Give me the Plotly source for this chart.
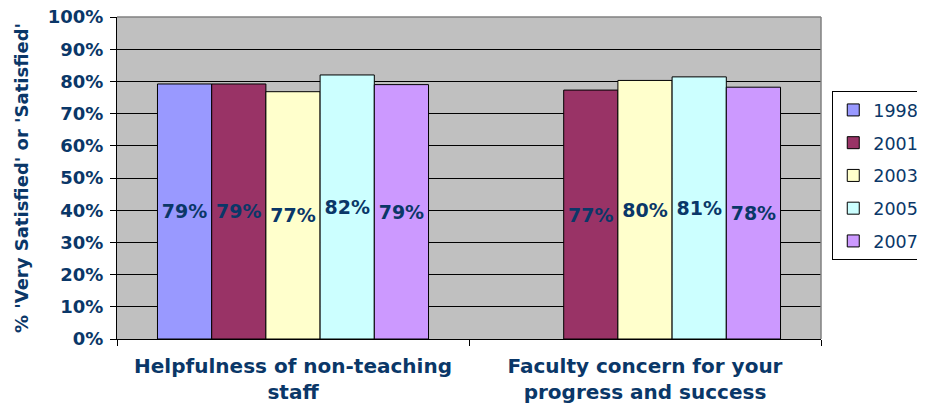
import plotly.graph_objects as go

categories = ["Helpfulness of non-teaching<br>staff", "Faculty concern for your<br>progress and success"]
years = ["1998", "2001", "2003", "2005", "2007"]
values = {
    "1998": [79.2, None],
    "2001": [79.2, 77.3],
    "2003": [76.8, 80.3],
    "2005": [82.0, 81.4],
    "2007": [79.0, 78.2],
}
colors = {
    "1998": "#9999FF",
    "2001": "#993366",
    "2003": "#FFFFCC",
    "2005": "#CCFFFF",
    "2007": "#CC99FF",
}

navy = "#0A3768"
font_family = "DejaVu Sans, Arial, sans-serif"

fig = go.Figure()
for i, yr in enumerate(years):
    fig.add_trace(go.Bar(
        name=yr,
        x=categories,
        y=values[yr],
        marker=dict(color=colors[yr], line=dict(color="black", width=1)),
        texttemplate="%{y:.0f}%",
        textposition="inside",
        insidetextanchor="middle",
        textangle=0,
        textfont=dict(family=font_family, size=19, color=navy, weight="bold"),
        legendgroup=yr,
        hoverinfo="skip",
    ))

# page body has an 8px margin; size the figure to fit inside the window
fig.update_layout(
    width=917, height=404,
    margin=dict(l=109, r=104, t=9, b=73, autoexpand=False),
    barmode="group",
    bargap=0.23,
    bargroupgap=0,
    plot_bgcolor="#C0C0C0",
    paper_bgcolor="white",
    font=dict(family=font_family, color=navy),
    showlegend=True,
    legend=dict(
        x=1.016, y=0.77, xanchor="left", yanchor="top",
        bgcolor="white", bordercolor="black", borderwidth=1,
        font=dict(family=font_family, size=17.5, color=navy),
        traceorder="grouped", tracegroupgap=7,
    ),
)

fig.update_yaxes(
    range=[0, 100], dtick=10, ticksuffix="%",
    showgrid=True, gridcolor="black", gridwidth=1,
    showline=True, linecolor="black", linewidth=1,
    ticks="outside", ticklen=6, tickcolor="black",
    ticklabeloverflow="allow", ticklabelstandoff=3,
    tickfont=dict(family=font_family, size=18, color=navy, weight="bold"),
    title=dict(text="% 'Very Satisfied' or 'Satisfied'",
               font=dict(family=font_family, size=18, color=navy, weight="bold"),
               standoff=14),
    zeroline=False,
)
fig.update_xaxes(
    showline=True, linecolor="black", linewidth=1,
    ticks="outside", ticklen=6, tickcolor="black", tickson="boundaries",
    ticklabelstandoff=9, ticklabeloverflow="allow",
    tickfont=dict(family=font_family, size=20, color=navy, weight="bold"),
)

# grey border on top and right of plot area
fig.add_shape(type="line", xref="paper", yref="paper", x0=0, x1=1, y0=1, y1=1,
              line=dict(color="#808080", width=1.5))
fig.add_shape(type="line", xref="paper", yref="paper", x0=1, x1=1, y0=0, y1=1,
              line=dict(color="#808080", width=1.5))

fig.write_html("out.html")
